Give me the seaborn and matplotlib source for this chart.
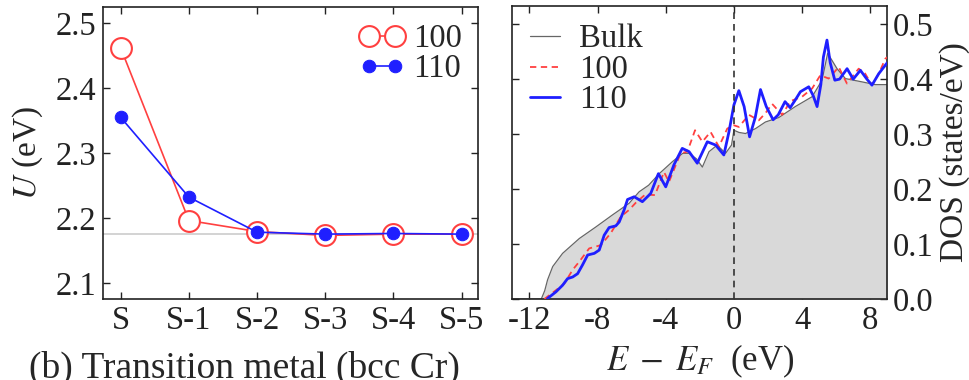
import numpy as np
import pandas as pd
import matplotlib
matplotlib.use("Agg")
import matplotlib.pyplot as plt
import seaborn as sns

# ---------------- data: left panel ----------------
layers = ["S", "S-1", "S-2", "S-3", "S-4", "S-5"]
u_100 = [2.462, 2.196, 2.179, 2.173, 2.175, 2.175]
u_110 = [2.355, 2.232, 2.178, 2.175, 2.176, 2.175]
u_bulk = 2.175

# ---------------- data: right panel (DOS) ----------------
bulk_E = [-13.0, -11.3, -11.1, -10.93, -10.63, -10.05, -9.07, -8.1, -7.12, -6.15,
          -5.56, -5.0, -4.38, -3.6, -3.0, -2.63, -2.2, -1.85, -1.46, -0.98,
          -0.49, -0.14, 0.0, 0.3, 0.68, 1.27, 1.85, 2.63, 3.6, 4.59,
          5.17, 5.5, 6.05, 6.54, 7.51, 8.29, 9.0]
bulk_D = [0.0, 0.0, 0.015, 0.035, 0.059, 0.083, 0.11, 0.131, 0.153, 0.174,
          0.195, 0.207, 0.228, 0.25, 0.265, 0.265, 0.255, 0.24, 0.268, 0.28,
          0.265, 0.28, 0.307, 0.303, 0.301, 0.31, 0.322, 0.33, 0.35, 0.368,
          0.398, 0.447, 0.419, 0.401, 0.395, 0.39, 0.39]

dos100_E = [-11.12, -10.44, -9.95, -9.46, -9.07, -8.49, -7.8, -7.22, -6.63, -6.15,
            -5.76, -5.2, -4.63, -4.1, -3.81, -3.13, -2.73, -2.28, -1.85, -1.37,
            -0.88, -0.39, 0.0, 0.29, 0.88, 1.46, 1.85, 2.24, 2.83, 3.32,
            4.0, 4.59, 5.07, 5.56, 6.15, 6.63, 7.32, 7.7, 8.1, 8.5, 8.88, 9.0]
dos100_D = [0.0, 0.016, 0.028, 0.053, 0.068, 0.092, 0.098, 0.12, 0.15, 0.162,
            0.175, 0.19, 0.189, 0.231, 0.213, 0.265, 0.268, 0.307, 0.286, 0.304,
            0.277, 0.31, 0.316, 0.313, 0.335, 0.325, 0.338, 0.355, 0.335, 0.36,
            0.368, 0.383, 0.407, 0.401, 0.422, 0.392, 0.419, 0.41, 0.389, 0.41, 0.437, 0.44]

dos110_E = [-10.93, -10.44, -10.05, -9.76, -9.46, -9.17, -8.88, -8.58, -8.19, -7.9,
            -7.61, -7.32, -6.93, -6.73, -6.44, -6.24, -5.85, -5.37, -4.88, -4.43,
            -4.0, -3.52, -3.03, -2.63, -2.15, -1.56, -1.07, -0.59, -0.29, 0.0,
            0.29, 0.6, 0.92, 1.25, 1.56, 1.9, 2.3, 2.6, 3.0, 3.3,
            3.6, 3.9, 4.39, 4.65, 4.88, 5.1, 5.25, 5.46, 5.65, 5.92,
            6.2, 6.64, 7.0, 7.42, 7.8, 8.1, 8.5, 9.0]
dos110_D = [0.001, 0.013, 0.025, 0.037, 0.04, 0.046, 0.062, 0.08, 0.083, 0.089,
            0.116, 0.13, 0.133, 0.14, 0.162, 0.181, 0.186, 0.177, 0.192, 0.228,
            0.204, 0.244, 0.274, 0.268, 0.247, 0.286, 0.28, 0.262, 0.304, 0.353,
            0.379, 0.35, 0.295, 0.33, 0.381, 0.35, 0.326, 0.335, 0.359, 0.348,
            0.362, 0.377, 0.386, 0.37, 0.35, 0.39, 0.44, 0.471, 0.43, 0.398,
            0.4, 0.419, 0.40, 0.416, 0.40, 0.389, 0.41, 0.43]

# ---------------- style ----------------
sns.set_style("ticks")
plt.rcParams["font.family"] = ["Liberation Serif", "DejaVu Serif"]
plt.rcParams["mathtext.fontset"] = "stix"
plt.rcParams["font.size"] = 23.5
plt.rcParams["axes.linewidth"] = 1.2
plt.rcParams["axes.edgecolor"] = "#222222"
for a in ("x", "y"):
    plt.rcParams[f"{a}tick.direction"] = "in"
    plt.rcParams[f"{a}tick.major.size"] = 5
    plt.rcParams[f"{a}tick.major.width"] = 1.0
    plt.rcParams[f"{a}tick.major.pad"] = 5
    plt.rcParams[f"{a}tick.labelsize"] = 23.5
    plt.rcParams[f"{a}tick.color"] = "#222222"

RED = "#ff4040"
BLUE = "#1f1fff"

fig = plt.figure(figsize=(9.69, 3.8), dpi=100)
ax1 = fig.add_axes([0.1063, 0.2132, 0.387, 0.768])
ax2 = fig.add_axes([0.5287, 0.2132, 0.387, 0.771])

# ---------------- left panel ----------------
idx = np.arange(len(layers))
ax1.axhline(u_bulk, color="#d0d0d0", lw=1.3, zorder=1)
sns.lineplot(x=idx, y=u_100, ax=ax1, color=RED, lw=1.2, marker="o", ms=15,
             mfc="white", mec=RED, mew=1.5, label="100", zorder=3)
sns.lineplot(x=idx, y=u_110, ax=ax1, color=BLUE, lw=1.2, marker="o", ms=9,
             mfc=BLUE, mec=BLUE, label="110", zorder=4)
ax1.set_xlim(-0.26, 5.24)
ax1.set_ylim(2.075, 2.525)
ax1.set_xticks(idx)
ax1.set_xticklabels(layers)
ax1.set_yticks([2.1, 2.2, 2.3, 2.4, 2.5])
ax1.set_yticklabels(["2.1", "2.2", "2.3", "2.4", "2.5"])
ax1.tick_params(top=True, right=True)
ax1.set_xlabel("")
ax1.set_ylabel(r"$U$ (eV)", fontsize=24)
ax1.yaxis.set_label_coords(-0.155, 0.5)
ax1.legend(loc="upper right", frameon=False, numpoints=2, handlelength=1.4,
           handletextpad=0.25, labelspacing=0.0, borderaxespad=0.1, fontsize=23.5)

# ---------------- right panel ----------------
ax2.fill_between(bulk_E, bulk_D, 0, color="#d9d9d9", lw=0, zorder=1)
sns.lineplot(x=bulk_E, y=bulk_D, ax=ax2, color="#666666", lw=0.9, label="Bulk", zorder=2)
sns.lineplot(x=dos100_E, y=dos100_D, ax=ax2, color=RED, lw=1.3,
             linestyle=(0, (3.5, 2.5)), label="100", zorder=3)
sns.lineplot(x=dos110_E, y=dos110_D, ax=ax2, color=BLUE, lw=2.0, label="110", zorder=4)
ax2.axvline(0, color="#333333", lw=1.2, ls=(0, (4, 3)), zorder=5)
ax2.set_xlim(-13, 9)
ax2.set_ylim(0, 0.533)
ax2.set_xticks([-12, -8, -4, 0, 4, 8])
ax2.set_xticklabels(["-12", "-8", "-4", "0", "4", "8"])
ax2.set_yticks([0.0, 0.1, 0.2, 0.3, 0.4, 0.5])
ax2.set_yticklabels(["0.0", "0.1", "0.2", "0.3", "0.4", "0.5"])
ax2.tick_params(axis="y", left=True, right=True, labelleft=False, labelright=True, pad=4)
ax2.tick_params(axis="x", top=True, bottom=True)
ax2.yaxis.set_label_position("right")
ax2.set_ylabel("DOS (states/eV)", fontsize=24)
ax2.yaxis.set_label_coords(1.138, 0.5)
ax2.set_xlabel(r"$E\;-\;E_F$  (eV)", fontsize=25)
ax2.xaxis.set_label_coords(0.5, -0.15)
ax2.legend(loc="upper left", frameon=False, handlelength=0.9, handletextpad=0.6,
           labelspacing=0.0, borderaxespad=0.15, fontsize=23.5)

fig.text(0.2525, 0.006, "(b) Transition metal (bcc Cr)", ha="center", va="baseline", fontsize=27)

fig.savefig("out.png", dpi=100)
